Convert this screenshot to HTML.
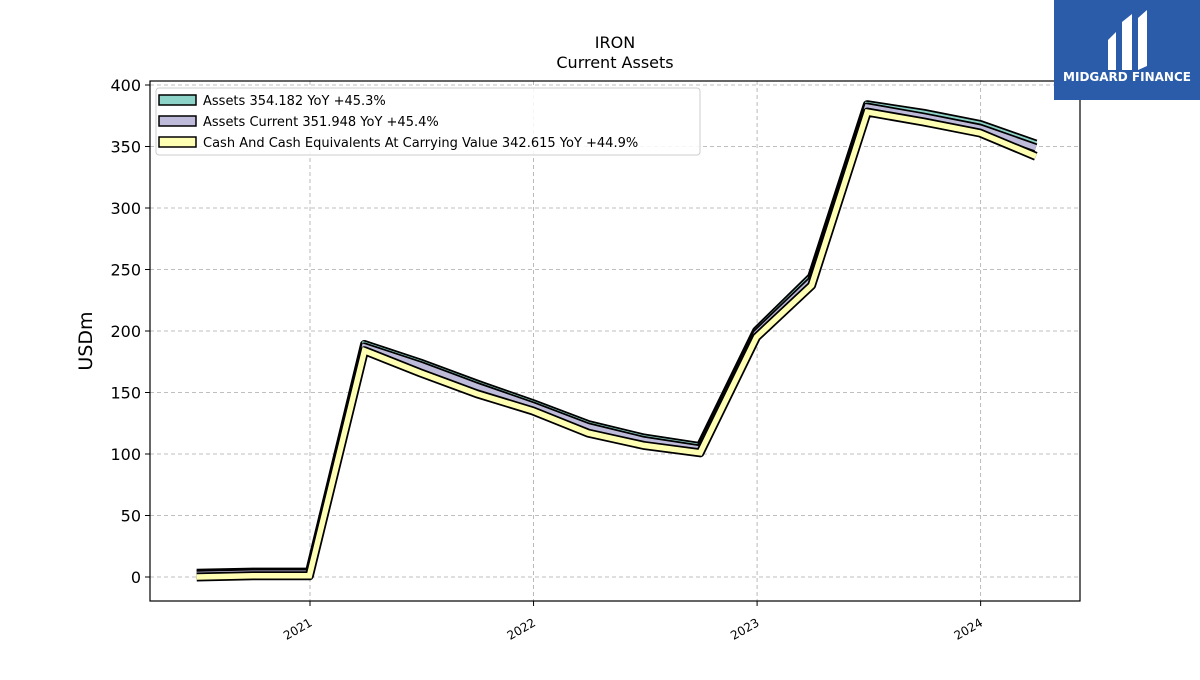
<!DOCTYPE html>
<html><head><meta charset="utf-8"><style>
body{margin:0;background:#fff;font-family:"Liberation Sans","DejaVu Sans",sans-serif}
</style></head><body>
<svg id="chart" width="1200" height="675" xmlns="http://www.w3.org/2000/svg" font-family="DejaVu Sans, Liberation Sans, sans-serif">
<rect width="1200" height="675" fill="#fff"/>
<text x="615" y="48" font-size="16" text-anchor="middle">IRON</text>
<text x="615" y="68" font-size="16" text-anchor="middle">Current  Assets</text>
<g id="grid"></g>
<g id="series"></g>
<rect x="150" y="81" width="930" height="520" fill="none" stroke="#000" stroke-width="1.2"/>
<g id="axes"></g>
<text x="92" y="341" font-size="19" text-anchor="middle" transform="rotate(-90 92 341)">USDm</text>
<g>
<rect x="156" y="88" width="544" height="67" rx="3" fill="#fff" fill-opacity="0.85" stroke="#ccc"/>
<rect x="159" y="95" width="37" height="10" fill="#8dd3c7" stroke="#000" stroke-width="1.5"/>
<text x="203" y="105" font-size="13">Assets  354.182 YoY +45.3%</text>
<rect x="159" y="116" width="37" height="10" fill="#bebada" stroke="#000" stroke-width="1.5"/>
<text x="203" y="126" font-size="13">Assets Current  351.948 YoY +45.4%</text>
<rect x="159" y="137" width="37" height="10" fill="#ffffb3" stroke="#000" stroke-width="1.5"/>
<text x="203" y="147" font-size="13">Cash And Cash Equivalents At Carrying Value  342.615 YoY +44.9%</text>
</g>
<g>
<rect x="1054" y="0" width="146" height="100" fill="#2a5caa"/>
<path d="M1108 40 L1116 32 L1116 70 L1108 70 Z M1122 22 L1132 14 L1132 70 L1122 70 Z M1138 18 L1147 10 L1147 66 L1138 70 Z" fill="#fff"/>
<text x="1127" y="81" font-size="12" font-weight="bold" fill="#fff" text-anchor="middle">MIDGARD FINANCE</text>
</g>
</svg>
<script>
const dates=["2020-06-30","2020-09-30","2020-12-31","2021-03-31","2021-06-30","2021-09-30","2021-12-31","2022-03-31","2022-06-30","2022-09-30","2022-12-31","2023-03-31","2023-06-30","2023-09-30","2023-12-31","2024-03-31"];
const assets=[3,4,4,189,174,157,141,124,113,106,200,244,384,377,368,352];
const assetsCurrent=[2,3,3,187,172,155,139,122,111,104,198,241,382,374,365,349];
const cash=[0,1,1,184,166,149,135,117,107,101,195,237,378,370,361,342];
const yTicks=[0,50,100,150,200,250,300,350,400];
const xTicks=["2021","2022","2023","2024"];
const NS="http://www.w3.org/2000/svg";
const t0=Date.UTC(2021,0,1), yearPx=223.7;
function xs(d){const t=Date.parse(d);return 310+(t-t0)/(365.25*864e5)*yearPx;}
function ys(v){return 577-v*1.23;}
function mk(tag,attrs,parent){const e=document.createElementNS(NS,tag);for(const k in attrs)e.setAttribute(k,attrs[k]);parent.appendChild(e);return e;}
const grid=document.getElementById('grid'),axes=document.getElementById('axes'),ser=document.getElementById('series');
yTicks.forEach(v=>{const y=ys(v);
 const g=mk('line',{x1:150,x2:1080,y1:y,y2:y,stroke:'#aaa','stroke-dasharray':'4,3','stroke-width':0.8},grid);
 
 
 mk('line',{x1:145,x2:150,y1:y,y2:y,stroke:'#000'},axes);
 const t=mk('text',{x:141,y:y+6,'font-size':16,'text-anchor':'end'},axes);t.textContent=v;
 
 
});
xTicks.forEach(yr=>{const x=xs(yr+"-01-01");
 const g=mk('line',{x1:x,x2:x,y1:81,y2:601,stroke:'#aaa','stroke-dasharray':'4,3','stroke-width':0.8},grid);
 
 
 mk('line',{x1:x,x2:x,y1:601,y2:606,stroke:'#000'},axes);
 const t=mk('text',{x:x+3,y:625,'font-size':12,'text-anchor':'end',transform:`rotate(-30 ${x+3} 625)`},axes);t.textContent=yr;
 
 
});
[[assets,'#8dd3c7','assets-line'],[assetsCurrent,'#bebada','assets-current-line'],[cash,'#ffffb3','cash-line']].forEach(([vals,col,name])=>{
 const pts=vals.map((v,i)=>xs(dates[i]).toFixed(1)+','+ys(v).toFixed(1)).join(' ');
 const g=mk('g',{},ser);
 
 
 mk('polyline',{points:pts,fill:'none',stroke:'#000','stroke-width':9,'stroke-linejoin':'round'},g);
 mk('polyline',{points:pts,fill:'none',stroke:col,'stroke-width':5.5,'stroke-linejoin':'miter'},g);
});
</script>
</body></html>
